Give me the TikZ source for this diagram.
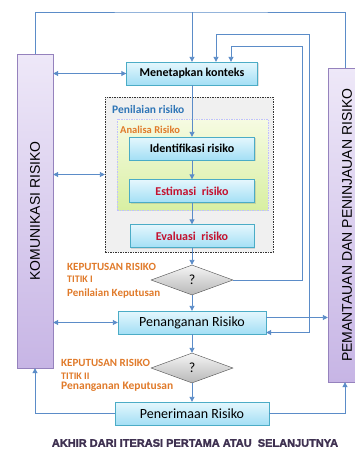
\documentclass[tikz,border=0pt]{standalone}
\usepackage{fontspec}
\setmainfont{Carlito}
\newfontfamily\arialfont{Liberation Sans}
\newfontfamily\heavyfont{Liberation Sans Bold}[FakeBold=2]
\usetikzlibrary{positioning, shapes.geometric, arrows.meta, shadows}

\definecolor{flowblue}{HTML}{5B8CC8}
\definecolor{boxtop}{HTML}{E5F7FD}
\definecolor{boxbottom}{HTML}{A3DFF5}
\definecolor{boxline}{HTML}{4BACC6}
\definecolor{lavlight}{HTML}{EEE8F8}
\definecolor{lavdark}{HTML}{C7B5E5}
\definecolor{lavline}{HTML}{9582BD}
\definecolor{keporange}{HTML}{E07A2A}
\definecolor{riskred}{HTML}{C4122F}
\definecolor{titleblue}{HTML}{2E75B6}
\definecolor{greenlight}{HTML}{F6FBE2}
\definecolor{greendark}{HTML}{D8EFA2}
\definecolor{endpurple}{HTML}{3F3151}

\tikzset{
	processnode/.style={
			rectangle,
			draw=boxline,
			top color=boxtop,
			bottom color=boxbottom,
			minimum height=23pt,
			inner sep=0pt,
			font=\bfseries\fontsize{12}{14}\selectfont,
			drop shadow={shadow xshift=1pt, shadow yshift=-1.2pt, opacity=0.25}
		},
	bigtext/.style={
			font=\fontsize{14}{16}\selectfont
		},
	sidenode/.style={
			rectangle,
			draw=lavline,
			top color=lavlight,
			bottom color=lavdark,
			minimum height=314pt,
			inner sep=0pt,
			font=\arialfont\fontsize{14}{16}\selectfont
		},
	decisionnode/.style={
			diamond,
			aspect=2.7,
			draw=black!70,
			top color=black!4,
			bottom color=black!28,
			minimum width=82pt,
			minimum height=30pt,
			inner sep=0pt,
			font=\fontsize{14}{16}\selectfont
		},
	assessnode/.style={
			rectangle,
			draw=black!80,
			dash pattern=on 1.5pt off 1pt,
			fill=black!6
		},
	analysisnode/.style={
			rectangle,
			draw=blue!25,
			dash pattern=on 1.5pt off 1pt,
			top color=greenlight,
			bottom color=greendark
		},
	labelnode/.style={
			inner sep=0pt,
			font=\bfseries\fontsize{11}{13}\selectfont
		},
	keplabel/.style={
			labelnode,
			text=keporange,
			align=left,
			anchor=north west
		},
	flowline/.style={
			draw=flowblue,
			line width=0.9pt
		},
	flowarrow/.style={
			flowline,
			-{Triangle[length=5pt, width=5pt]}
		},
	flowboth/.style={
			flowline,
			{Triangle[length=5pt, width=5pt]}-{Triangle[length=5pt, width=5pt]}
		}
}

\begin{document}
\begin{tikzpicture}[x=1pt, y=-1pt]
	\useasboundingbox (0,0) rectangle (354,450);

	% side bars
	\node[sidenode, minimum width=36pt] (komunikasi) at (35,211) {\rotatebox{90}{KOMUNIKASI RISIKO}};
	\node[sidenode, minimum width=38pt] (pemantauan) at (347,225) {\rotatebox{90}{PEMANTAUAN DAN PENINJAUAN RISIKO}};

	% penilaian and analisa frames
	\node[assessnode, minimum width=168pt, minimum height=155pt] (penilaian) at (189,174.5) {};
	\node[analysisnode, minimum width=151pt, minimum height=91pt] (analisa) at (192.5,164.5) {};
	\node[labelnode, text=titleblue, anchor=west, font=\bfseries\fontsize{11.5}{13}\selectfont] (penilaiantext) at (112,110) {Penilaian risiko};
	\node[labelnode, text=keporange, anchor=west, font=\bfseries\fontsize{10.5}{12}\selectfont] (analisatext) at (120,130) {Analisa Risiko};

	% main flow
	\node[processnode, minimum width=131pt] (konteks) at (192,73.5) {Menetapkan konteks};
	\node[processnode, minimum width=125pt] (identifikasi) at (192,148.5) {Identifikasi risiko};
	\node[processnode, minimum width=125pt, text=riskred] (estimasi) at (192,191) {Estimasi\ \ risiko};
	\node[processnode, minimum width=124pt, text=riskred] (evaluasi) at (192,236) {Evaluasi\ \ risiko};
	\node[decisionnode] (keputusan1) at (192,280) {?};
	\node[processnode, bigtext, minimum width=148pt] (penanganan) at (192,322.5) {Penanganan Risiko};
	\node[decisionnode] (keputusan2) at (192,368) {?};
	\node[processnode, bigtext, minimum width=154pt] (penerimaan) at (192,413.5) {Penerimaan Risiko};

	% decision labels
	\node[keplabel] (titik1) at (67,263.5) {KEPUTUSAN RISIKO\\[-1pt]{\fontsize{10}{12}\selectfont TITIK I}\\[1pt]Penilaian Keputusan};
	\node[keplabel] (titik2) at (61,359.5) {KEPUTUSAN RISIKO\\[0pt]{\fontsize{10}{12}\selectfont TITIK II}\\[-3pt]{\fontsize{11.5}{13}\selectfont Penanganan Keputusan}};

	\node[font=\heavyfont\fontsize{11}{13}\selectfont, text=endpurple] (akhir) at (195,443) {AKHIR DARI ITERASI PERTAMA ATAU\ \ SELANJUTNYA};

	% loops
	\coordinate (topbend) at (192,12);
	\coordinate (outerloop) at (309,34);
	\coordinate (innerloop) at (302,46);

	\draw[flowline] (komunikasi.north) |- (topbend) -| ([xshift=-2pt]pemantauan.north);
	\draw[flowarrow] (topbend) -- (konteks);
	\draw[flowboth] ([xshift=24pt]konteks.north) |- (outerloop) |- ([yshift=-10pt]penanganan.east);
	\draw[flowarrow] (keputusan1.east) -| (innerloop) -| ([xshift=39pt]konteks.north);

	\draw[flowarrow] (konteks) -- (identifikasi);
	\draw[flowarrow] (identifikasi) -- (estimasi);
	\draw[flowarrow] (estimasi) -- (evaluasi);
	\draw[flowarrow] (evaluasi) -- (keputusan1);
	\draw[flowarrow] (keputusan1) -- (penanganan);
	\draw[flowarrow] (penanganan) -- (keputusan2);
	\draw[flowarrow] (keputusan2) -- (penerimaan);

	\draw[flowboth] (komunikasi.east |- konteks.west) -- (konteks.west);
	\draw[flowboth] (komunikasi.east |- penilaian.west) -- (penilaian.west);
	\draw[flowboth] (komunikasi.east |- penanganan.west) -- (penanganan.west);
	\draw[flowarrow] ([yshift=5pt]penanganan.east) -- ([yshift=5pt]penanganan.east -| pemantauan.west);
	\draw[flowarrow] (penerimaan.west) -| (komunikasi.south);
	\draw[flowarrow] (penerimaan.east) -| ([xshift=-2pt]pemantauan.south);
\end{tikzpicture}
\end{document}
